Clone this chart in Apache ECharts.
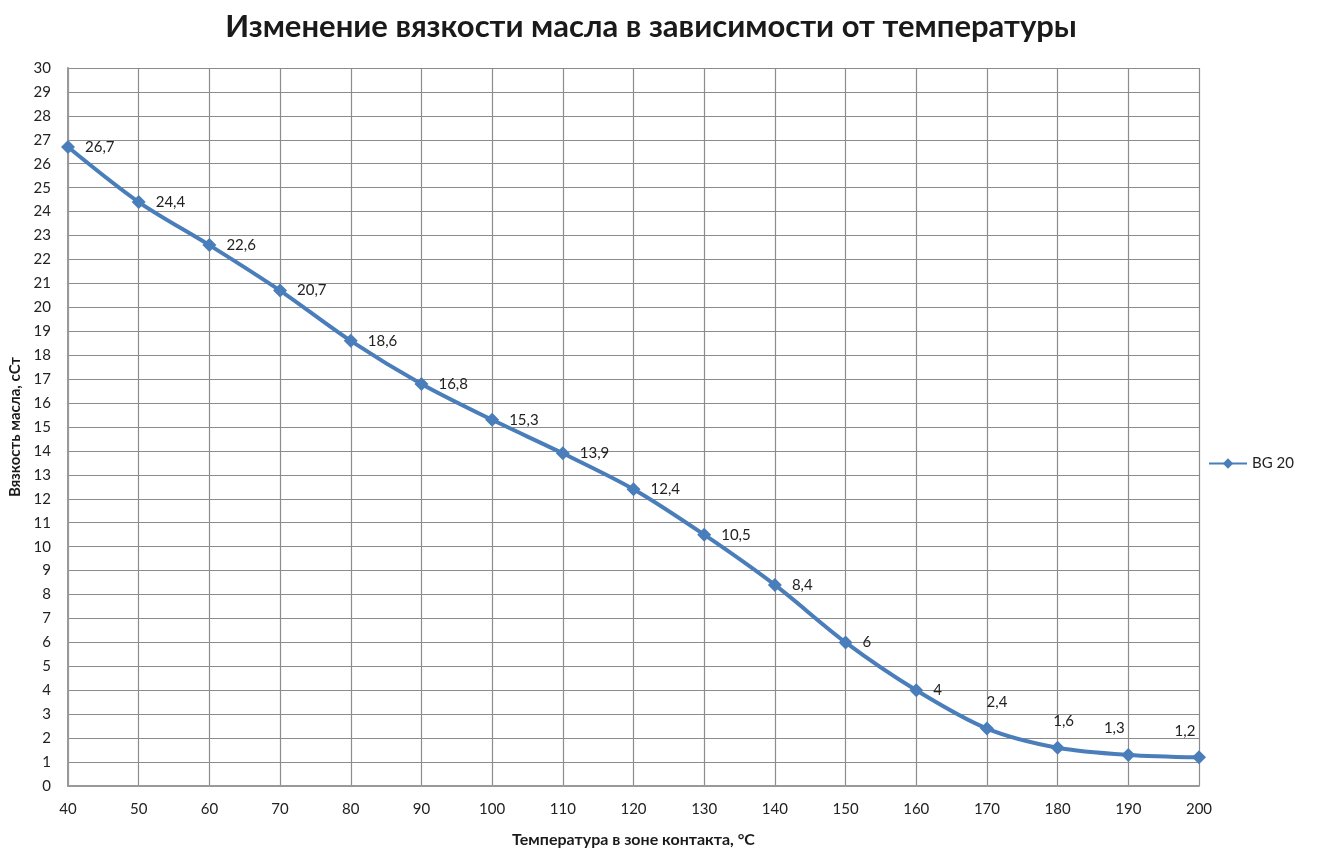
<!DOCTYPE html>
<html>
<head>
<meta charset="utf-8">
<script src="https://cdn.jsdelivr.net/npm/echarts@6/dist/echarts.min.js"></script>
<style>
  html, body { margin: 0; padding: 0; background: #fff; }
  #chart { width: 1343px; height: 851px; }
</style>
</head>
<body>
<div id="chart"></div>
<script>
// Температура в зоне контакта, °C
const temperatures = [40, 50, 60, 70, 80, 90, 100, 110, 120, 130, 140, 150, 160, 170, 180, 190, 200];
// Вязкость масла BG 20, сСт
const viscosity = [26.7, 24.4, 22.6, 20.7, 18.6, 16.8, 15.3, 13.9, 12.4, 10.5, 8.4, 6, 4, 2.4, 1.6, 1.3, 1.2];
const seriesName = 'BG 20';

const FONT = 'Lato, "Open Sans", sans-serif';
const BLUE = '#4A7EBB';

const fmt = v => String(v).replace('.', ',');

const points = temperatures.map((t, i) => {
  const item = { value: [t, viscosity[i]] };
  // near the flat tail the labels sit above the markers
  if (i >= temperatures.length - 4) {
    const dx = i === temperatures.length - 4 ? 10 : (i === temperatures.length - 3 ? 6 : -14);
    item.label = { position: 'top', distance: 12, offset: [dx, 0] };
  }
  return item;
});

const chart = echarts.init(document.getElementById('chart'));
chart.setOption({
  animation: false,
  backgroundColor: '#fff',
  title: {
    text: 'Изменение вязкости масла в зависимости от температуры',
    left: 646,
    textAlign: 'center',
    top: 6,
    textStyle: { fontFamily: FONT, fontSize: 31, fontWeight: 'bold', color: '#1a1a1a' }
  },
  legend: {
    data: [seriesName],
    left: 1203,
    top: 451,
    itemWidth: 38,
    itemHeight: 13,
    itemGap: 4,
    textStyle: { fontFamily: FONT, fontSize: 15, color: '#222' }
  },
  grid: { left: 68, right: 144, top: 68, bottom: 65, containLabel: false, outerBoundsMode: 'none' },
  xAxis: {
    type: 'value',
    min: 40, max: 200, interval: 10,
    name: 'Температура в зоне контакта, °C',
    nameLocation: 'middle',
    nameGap: 46,
    nameTextStyle: { fontFamily: FONT, fontSize: 16, fontWeight: 'bold', color: '#1a1a1a' },
    axisLine: { lineStyle: { color: '#999', width: 2 } },
    axisTick: { show: false },
    axisLabel: { fontFamily: FONT, fontSize: 15, color: '#222', margin: 16 },
    splitLine: { show: true, lineStyle: { color: '#8c8c8c', width: 1.2 } }
  },
  yAxis: {
    type: 'value',
    min: 0, max: 30, interval: 1,
    name: 'Вязкость масла, сСт',
    nameLocation: 'middle',
    nameGap: 45,
    nameTextStyle: { fontFamily: FONT, fontSize: 15, fontWeight: 'bold', color: '#1a1a1a' },
    axisLine: { show: true, lineStyle: { color: '#999', width: 2 } },
    axisTick: { show: false },
    axisLabel: { fontFamily: FONT, fontSize: 15, color: '#222', margin: 17 },
    splitLine: { show: true, lineStyle: { color: '#8c8c8c', width: 1.2 } }
  },
  series: [{
    name: seriesName,
    type: 'line',
    data: points,
    smooth: 0.3,
    symbol: 'diamond',
    symbolSize: 14,
    lineStyle: { color: BLUE, width: 4 },
    itemStyle: { color: BLUE },
    label: {
      show: true,
      position: 'right',
      distance: 10,
      fontFamily: FONT,
      fontSize: 15,
      color: '#222',
      formatter: p => fmt(p.value[1])
    }
  }]
});
</script>
</body>
</html>
